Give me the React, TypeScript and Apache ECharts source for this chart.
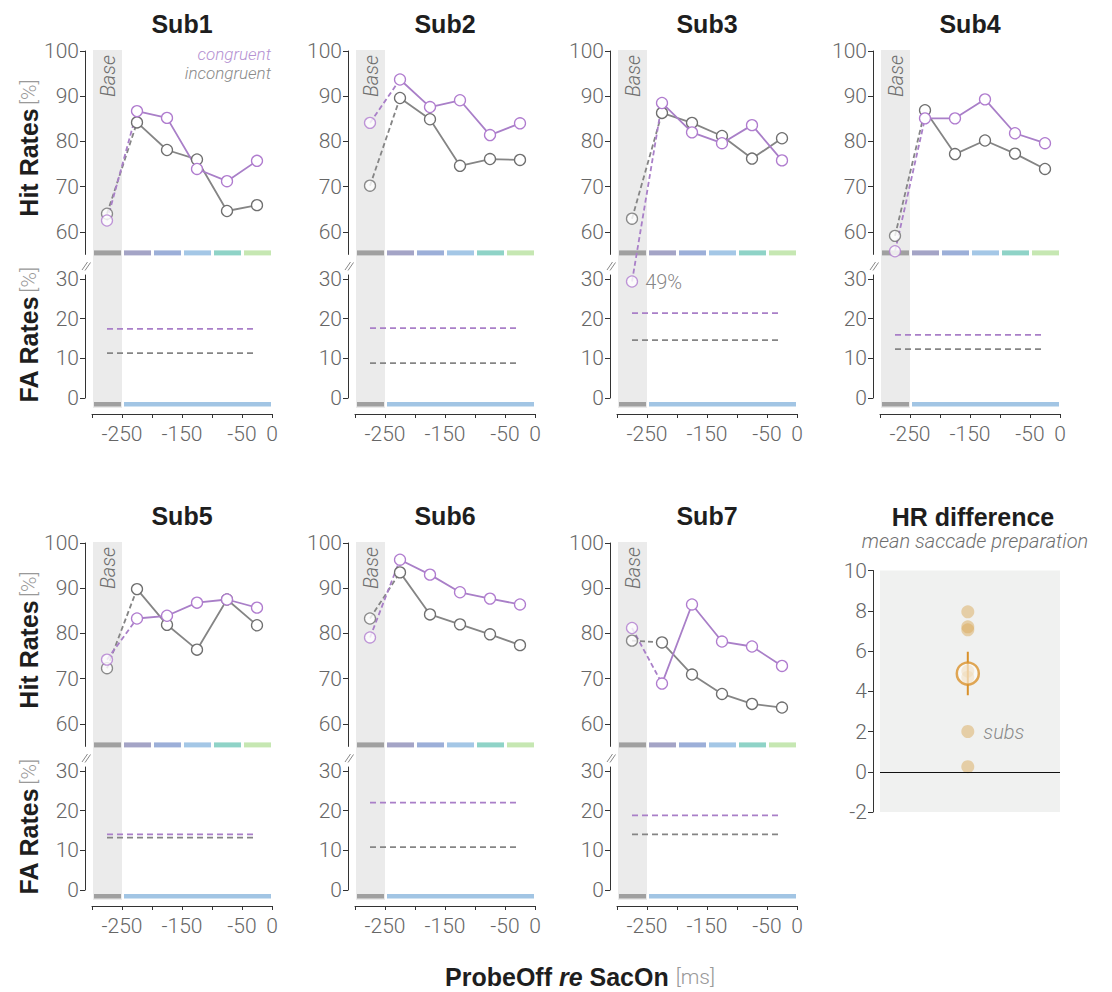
import React, { useEffect, useRef } from 'react';
import * as echarts from 'echarts';

// ---------------- data ----------------
const subjects = ['Sub1', 'Sub2', 'Sub3', 'Sub4', 'Sub5', 'Sub6', 'Sub7'];
const baseX = -275;
const binCenters = [-225, -175, -125, -75, -25];
const congBase = [62.5, 84.1, 49, 55.7, 74.2, 79.1, 81.2];
const incongBase = [64.0, 70.2, 62.9, 59.1, 72.3, 83.3, 78.4];
const congHit = [
  [86.7, 85.2, 73.9, 71.2, 75.7],
  [93.7, 87.6, 89.1, 81.4, 84.0],
  [88.5, 82.0, 79.6, 83.6, 75.8],
  [85.1, 85.1, 89.3, 81.8, 79.6],
  [83.3, 83.9, 86.8, 87.5, 85.7],
  [96.3, 93.0, 89.1, 87.7, 86.4],
  [68.9, 86.4, 78.2, 77.1, 72.8],
];
const incongHit = [
  [84.2, 78.1, 76.0, 64.6, 65.9],
  [89.6, 84.9, 74.6, 76.1, 75.9],
  [86.3, 84.1, 81.2, 76.2, 80.7],
  [86.9, 77.2, 80.2, 77.3, 73.9],
  [89.8, 81.9, 76.4, 87.5, 81.8],
  [93.5, 84.2, 82.0, 79.8, 77.4],
  [78.0, 70.9, 66.6, 64.4, 63.6],
];
const congFA = [17.4, 17.6, 21.4, 15.9, 14.0, 22.0, 18.8];
const incongFA = [11.3, 8.8, 14.6, 12.3, 13.2, 10.8, 14.0];
const faRange = [-275, -25];
const hrDiff = [4.7, 7.05, 0.25, 5.0, 2.0, 7.2, 7.95];
const offScaleLabel = { subject: 2, text: '49%' };
const subsLabelIndex = 4;

const hitTicks = [60, 70, 80, 90, 100];
const faTicks = [0, 10, 20, 30];
const xLabelTicks = [-250, -150, -50, 0];
const topBins = [
  [-300, -250, 0], [-250, -200, 1], [-200, -150, 2],
  [-150, -100, 3], [-100, -50, 4], [-50, 0, 5],
];
const faBins = [[-300, -250, 0], [-250, 0, 1]];

// ---------------- styles ----------------
const topBarColors = ['#a0a0a0', '#a4a4c6', '#9cafd8', '#a4c7e6', '#8fd3c7', '#c6e7b2'];
const faBarColors = ['#a0a0a0', '#a2c5e4'];
const PURPLE = '#a97fc8';
const PURPLE_M = '#b07ccf';
const GREY = '#858585';
const GREY_M = '#6f6f6f';
const ORANGE = '#d9912a';
const LIGHT = 'Roboto, "Liberation Sans", sans-serif';
const BOLD = '"Liberation Sans", Arial, sans-serif';
const AX = '#333';
const TICKC = '#666';
const TICKF = 21;

const X0 = 92, GW = 180;
const COL_DX = [0, 263, 525, 788];
const ROW_DY = [0, 492];
const TOP_Y = 51, TOP_H = 203.4;
const FA_Y = 275, FA_H = 123;

const centered = { align: 'center', verticalAlign: 'middle', textAlign: 'center', textVerticalAlign: 'middle' };

function buildOption() {
  const grid: any[] = [];
  const xAxis: any[] = [];
  const yAxis: any[] = [];
  const series: any[] = [];
  const graphic: any[] = [];

  const yAxisCommon = (gi: number, min: number, max: number, ticks: number[]) => ({
    gridIndex: gi, type: 'value', min, max, offset: 7,
    axisLine: { show: true, onZero: false, lineStyle: { color: AX, width: 1 } },
    axisTick: { show: true, length: 5, customValues: ticks, lineStyle: { color: AX } },
    axisLabel: { customValues: ticks, fontSize: TICKF, color: TICKC, fontFamily: LIGHT, fontWeight: 300, margin: 6 },
    splitLine: { show: false },
  });

  subjects.forEach((name, i) => {
    const col = i % 4, row = Math.floor(i / 4);
    const dx = COL_DX[col], dy = ROW_DY[row];
    const gT = 2 * i, gF = 2 * i + 1;
    const faBottom = FA_Y + dy + FA_H;
    grid.push({ left: X0 + dx, top: TOP_Y + dy, width: GW, height: TOP_H });
    grid.push({ left: X0 + dx, top: FA_Y + dy, width: GW, height: FA_H });
    xAxis.push({ gridIndex: gT, type: 'value', min: -300, max: 0, show: false });
    xAxis.push({
      gridIndex: gF, type: 'value', min: -300, max: 0, interval: 50, offset: 16,
      axisLine: { show: true, onZero: false, lineStyle: { color: AX } },
      axisTick: { show: true, length: 4, lineStyle: { color: AX } },
      axisLabel: { customValues: xLabelTicks, fontSize: TICKF, color: TICKC, fontFamily: LIGHT, fontWeight: 300, margin: 9 },
      splitLine: { show: false },
    });
    yAxis.push(yAxisCommon(gT, 55, 100, hitTicks));
    yAxis.push(yAxisCommon(gF, 0, 31, faTicks));

    // baseline shading
    series.push({
      type: 'custom', xAxisIndex: gT, yAxisIndex: gT, z: 1, silent: true,
      data: [[-300, -250]],
      renderItem: (_p: any, api: any) => {
        const a = api.coord([api.value(0), 100]);
        const b = api.coord([api.value(1), 55]);
        return {
          type: 'rect',
          shape: { x: a[0] + 1, y: a[1] - 1, width: b[0] - a[0] - 1, height: faBottom + 10 - a[1] + 1 },
          style: { fill: '#ebebeb' },
        };
      },
    });
    // bin colour bars (hit panel)
    series.push({
      type: 'custom', xAxisIndex: gT, yAxisIndex: gT, z: 2, silent: true,
      data: topBins,
      renderItem: (_p: any, api: any) => {
        const a = api.coord([api.value(0), 55]);
        const b = api.coord([api.value(1), 55]);
        return {
          type: 'rect',
          shape: { x: a[0] + 2, y: a[1] - 4, width: b[0] - a[0] - 3, height: 5 },
          style: { fill: topBarColors[api.value(2)] },
        };
      },
    });
    // bin colour bars (FA panel)
    series.push({
      type: 'custom', xAxisIndex: gF, yAxisIndex: gF, z: 2, silent: true,
      data: faBins,
      renderItem: (_p: any, api: any) => {
        const a = api.coord([api.value(0), 0]);
        const b = api.coord([api.value(1), 0]);
        return {
          type: 'rect',
          shape: { x: a[0] + 2, y: a[1] + 4, width: b[0] - a[0] - 3, height: 4.5 },
          style: { fill: faBarColors[api.value(2)] },
        };
      },
    });

    const addCond = (base: number, vals: number[], fa: number, lc: string, mc: string, isCong: boolean) => {
      series.push({
        type: 'line', xAxisIndex: gT, yAxisIndex: gT, z: 3, silent: true, clip: false,
        symbol: 'none', data: [[baseX, base], [binCenters[0], vals[0]]],
        lineStyle: { color: lc, width: 1.8, type: [5, 3] },
      });
      series.push({
        type: 'line', xAxisIndex: gT, yAxisIndex: gT, z: 4, silent: true,
        symbol: 'circle', symbolSize: 11, showSymbol: true,
        data: binCenters.map((x, k) => [x, vals[k]]),
        lineStyle: { color: lc, width: 1.8 },
        itemStyle: { color: '#fff', borderColor: mc, borderWidth: 1.3 },
      });
      const showLbl = isCong && offScaleLabel.subject === i;
      series.push({
        type: 'scatter', xAxisIndex: gT, yAxisIndex: gT, z: 4, silent: true, clip: false,
        symbol: 'circle', symbolSize: 11,
        data: [[baseX, base]],
        itemStyle: { color: '#fff', borderColor: mc, borderWidth: 1.3 },
        label: showLbl ? {
          show: true, position: 'right', distance: 7, formatter: offScaleLabel.text,
          fontSize: 20, color: TICKC, fontFamily: LIGHT, fontWeight: 300,
        } : { show: false },
      });
      series.push({
        type: 'line', xAxisIndex: gF, yAxisIndex: gF, z: 3, silent: true,
        symbol: 'none', data: faRange.map((x) => [x, fa]),
        lineStyle: { color: lc, width: 1.8, type: [6, 4] },
      });
    };
    addCond(incongBase[i], incongHit[i], incongFA[i], GREY, GREY_M, false);
    addCond(congBase[i], congHit[i], congFA[i], PURPLE, PURPLE_M, true);

    const cx = X0 + dx + GW / 2;
    graphic.push({
      type: 'text', x: cx, y: 24 + dy, z: 20,
      style: { text: name, fontSize: 25, fontWeight: 'bold', fontFamily: BOLD, fill: '#1e1e1e', ...centered },
    });
    graphic.push({
      type: 'text', x: X0 + dx + 16, y: 76 + dy, rotation: Math.PI / 2, z: 20,
      style: { text: 'Base', fontSize: 20, fontStyle: 'italic', fontFamily: LIGHT, fontWeight: 300, fill: '#6f6f6f', ...centered },
    });
    // axis break marks
    const bx = X0 + dx - 10, by = 262 + dy;
    graphic.push({ type: 'line', z: 20, shape: { x1: bx, y1: by + 8, x2: bx + 5.5, y2: by }, style: { stroke: '#888', lineWidth: 1 } });
    graphic.push({ type: 'line', z: 20, shape: { x1: bx + 3, y1: by + 8.5, x2: bx + 8.5, y2: by + 0.5 }, style: { stroke: '#888', lineWidth: 1 } });
  });

  // y-axis titles
  const yTitle = (t: string, y: number) => ({
    type: 'text', x: 29, y, rotation: Math.PI / 2, z: 20,
    style: {
      text: `{a|${t}} {b|[%]}`,
      rich: {
        a: { fontSize: 25, fontWeight: 'bold', fontFamily: BOLD, fill: '#1e1e1e', color: '#1e1e1e' },
        b: { fontSize: 21, fontFamily: LIGHT, fontWeight: 300, fill: '#999', color: '#999' },
      },
      ...centered,
    },
  });
  ROW_DY.forEach((dy) => {
    graphic.push(yTitle('Hit Rates', 148 + dy));
    graphic.push(yTitle('FA Rates', 335 + dy));
  });

  // legend
  graphic.push({
    type: 'text', x: 271, y: 54, z: 20,
    style: { text: 'congruent', fontSize: 17, fontStyle: 'italic', fontFamily: LIGHT, fontWeight: 300, fill: '#b592d2', align: 'right', verticalAlign: 'middle', textAlign: 'right', textVerticalAlign: 'middle' },
  });
  graphic.push({
    type: 'text', x: 271, y: 72.5, z: 20,
    style: { text: 'incongruent', fontSize: 17, fontStyle: 'italic', fontFamily: LIGHT, fontWeight: 300, fill: '#8a8a8a', align: 'right', verticalAlign: 'middle', textAlign: 'right', textVerticalAlign: 'middle' },
  });

  // x-axis title
  graphic.push({
    type: 'text', x: 580, y: 977, z: 20,
    style: {
      text: '{b|ProbeOff }{bi|re}{b| SacOn }{l|[ms]}',
      rich: {
        b: { fontSize: 25, fontWeight: 'bold', fontFamily: BOLD, fill: '#1e1e1e', color: '#1e1e1e' },
        bi: { fontSize: 25, fontWeight: 'bold', fontStyle: 'italic', fontFamily: BOLD, fill: '#1e1e1e', color: '#1e1e1e' },
        l: { fontSize: 21, fontFamily: LIGHT, fontWeight: 300, fill: '#999', color: '#999' },
      },
      ...centered,
    },
  });

  // HR difference panel
  const gH = 14;
  grid.push({ left: 880, top: 570.5, width: 180, height: 241.5, show: true, backgroundColor: '#f0f1f0', borderWidth: 0 });
  xAxis.push({ gridIndex: gH, type: 'value', min: -1, max: 1.05, show: false });
  yAxis.push({
    gridIndex: gH, type: 'value', min: -2, max: 10, interval: 2, offset: 7,
    axisLine: { show: true, onZero: false, lineStyle: { color: AX } },
    axisTick: { show: true, length: 5, lineStyle: { color: AX } },
    axisLabel: { fontSize: TICKF, color: TICKC, fontFamily: LIGHT, fontWeight: 300, margin: 6 },
    splitLine: { show: false },
  });
  const mean = hrDiff.reduce((s, v) => s + v, 0) / hrDiff.length;
  const sd = Math.sqrt(hrDiff.reduce((s, v) => s + (v - mean) ** 2, 0) / (hrDiff.length - 1));
  const sem = sd / Math.sqrt(hrDiff.length);
  series.push({
    type: 'scatter', xAxisIndex: gH, yAxisIndex: gH, z: 2, silent: true,
    symbolSize: 13,
    itemStyle: { color: 'rgba(219, 170, 92, 0.62)' },
    data: hrDiff.map((v, k) => k === subsLabelIndex ? {
      value: [0, v],
      label: { show: true, position: 'right', distance: 9, formatter: 'subs', fontSize: 20, fontStyle: 'italic', color: '#6f6f6f', fontFamily: LIGHT, fontWeight: 300 },
    } : [0, v]),
    markLine: {
      silent: true, symbol: ['none', 'none'], label: { show: false },
      lineStyle: { color: '#111', width: 1, type: 'solid' },
      data: [{ yAxis: 0 }],
    },
  });
  series.push({
    type: 'line', xAxisIndex: gH, yAxisIndex: gH, z: 3, silent: true, symbol: 'none',
    data: [[0, mean - sem], [0, mean + sem]],
    lineStyle: { color: ORANGE, width: 2 },
  });
  series.push({
    type: 'scatter', xAxisIndex: gH, yAxisIndex: gH, z: 4, silent: true,
    symbolSize: 22, data: [[0, mean]],
    itemStyle: { color: 'rgba(255,255,255,0.7)', borderColor: ORANGE, borderWidth: 2.5 },
  });
  graphic.push({
    type: 'text', x: 973, y: 517, z: 20,
    style: { text: 'HR difference', fontSize: 25, fontWeight: 'bold', fontFamily: BOLD, fill: '#1e1e1e', ...centered },
  });
  graphic.push({
    type: 'text', x: 975, y: 541, z: 20,
    style: { text: 'mean saccade preparation', fontSize: 20, fontStyle: 'italic', fontFamily: LIGHT, fontWeight: 300, fill: '#6f6f6f', ...centered },
  });

  return { animation: false, backgroundColor: '#fff', grid, xAxis, yAxis, series, graphic };
}

export default function App() {
  const ref = useRef<HTMLDivElement>(null);
  useEffect(() => {
    const chart = echarts.init(ref.current!, null, { renderer: 'svg' });
    chart.setOption(buildOption() as any);
    return () => chart.dispose();
  }, []);
  return <div ref={ref} style={{ position: 'absolute', left: 0, top: 0, width: 1112, height: 992 }} />;
}
